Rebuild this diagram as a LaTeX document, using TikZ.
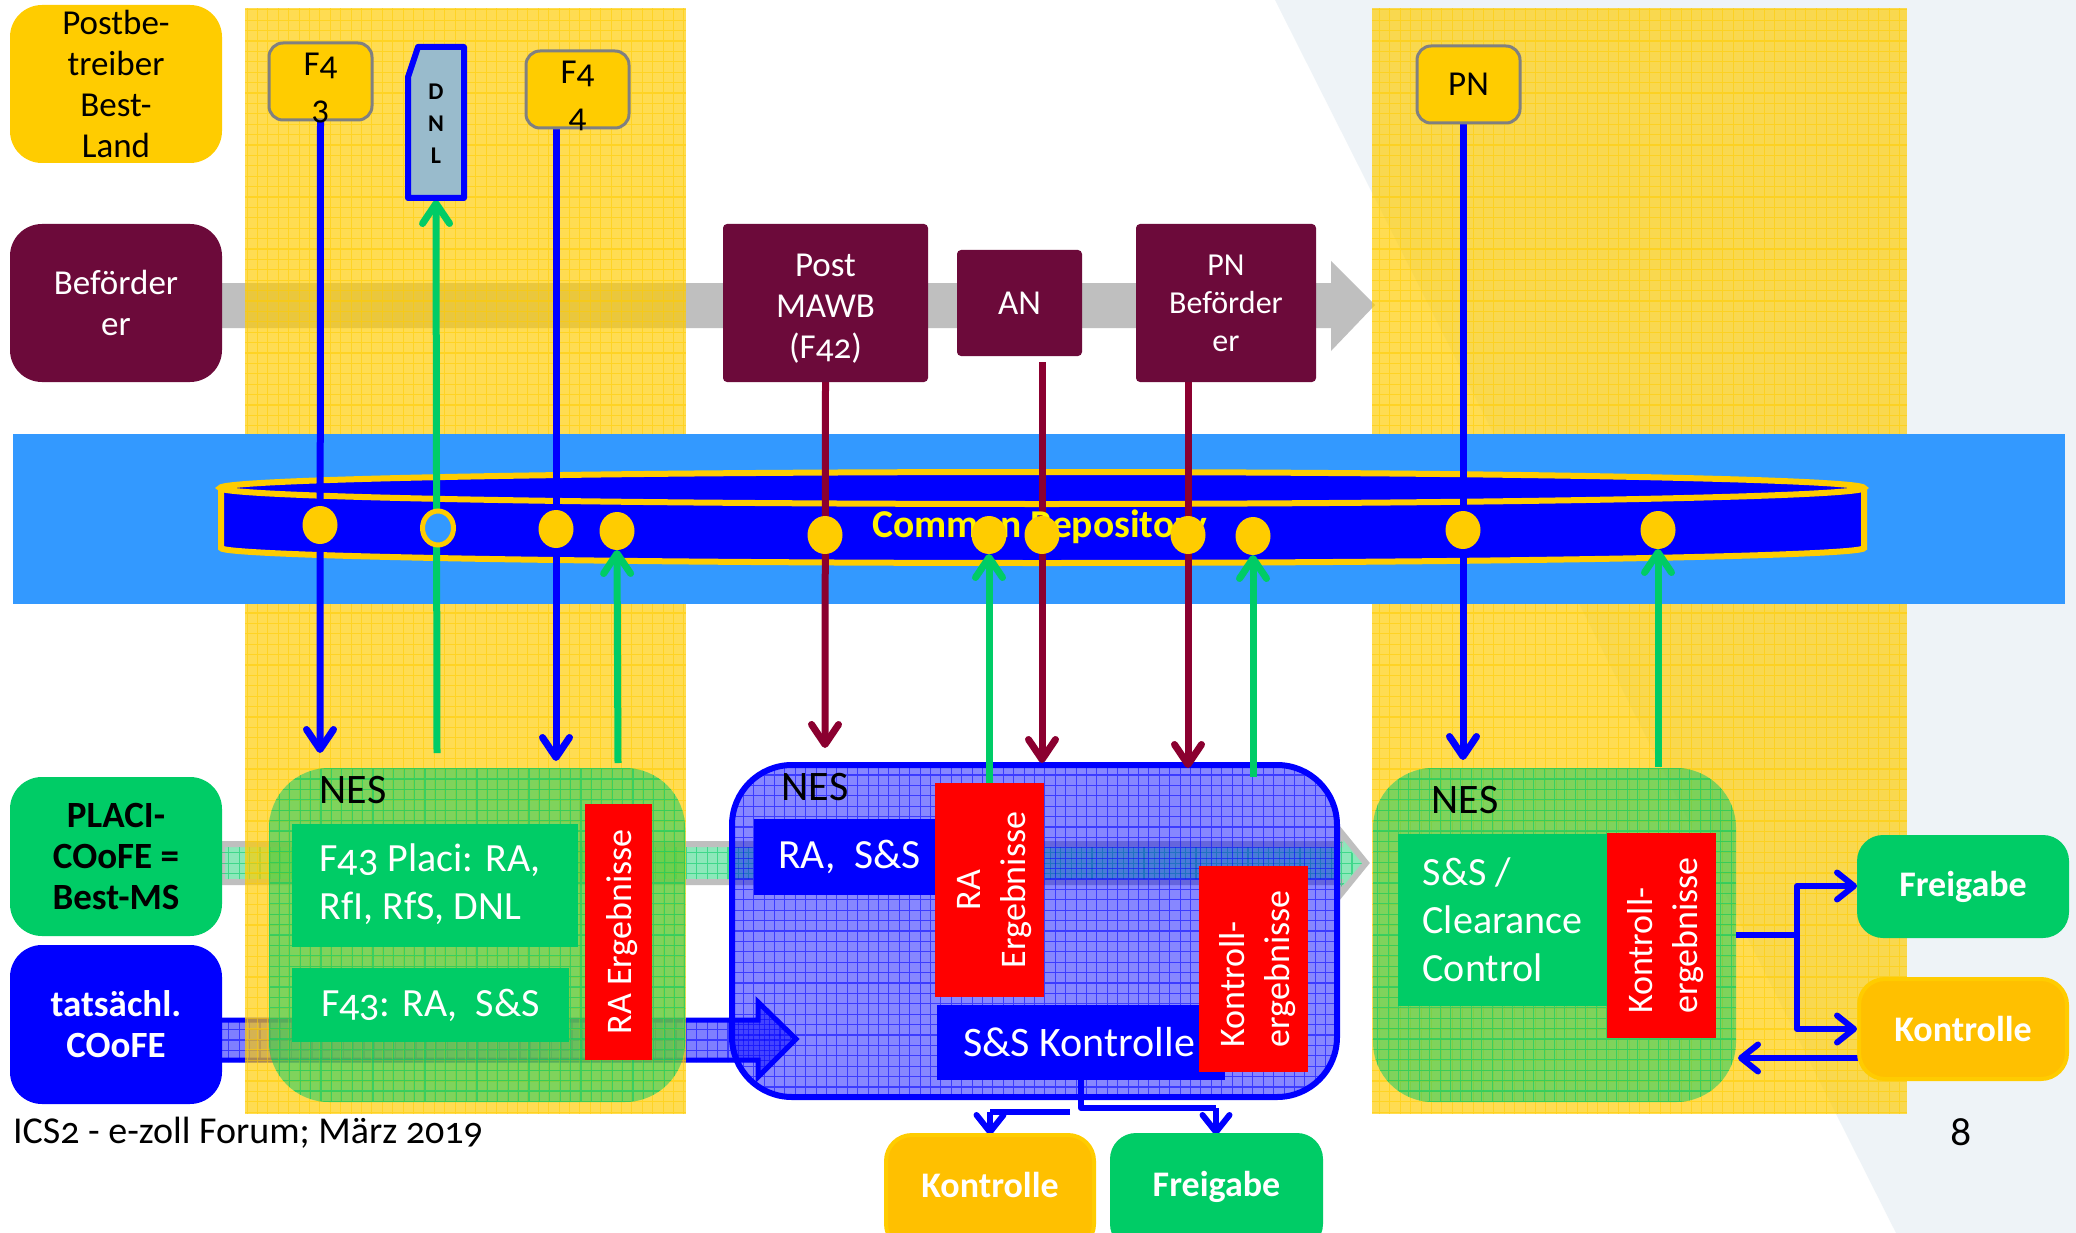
\documentclass[tikz,border=0pt]{standalone}
\usepackage{fontspec}
\setmainfont[Numbers=OldStyle]{Carlito}
\usetikzlibrary{arrows.meta,shapes.geometric}
\definecolor{lightbg}{HTML}{EEF3F7}
\definecolor{bandblue}{HTML}{3399FF}
\definecolor{gold}{HTML}{FFCC00}
\definecolor{amber}{HTML}{FFC000}
\definecolor{plum}{HTML}{6C0A3A}
\definecolor{wine}{HTML}{8B0030}
\definecolor{leaf}{HTML}{00CC66}
\definecolor{pure}{HTML}{0000FF}
\definecolor{dnlfill}{HTML}{99BBCC}
\definecolor{steel}{HTML}{BFBFBF}
\pgfdeclarelayer{bg}
\pgfdeclarelayer{conn}
\pgfsetlayers{bg,conn,main}
\newcommand{\fs}[2]{\fontsize{#1}{#2}\selectfont}
\newcommand{\bx}[7]{\node[#1,minimum width={(#5-#3)*1pt},minimum height={(#6-#4)*1pt}] (#2) at ({(#3+#5)/2},{(#4+#6)/2}) {#7};}
\newcommand{\rot}[1]{\hspace{8pt}\rotatebox{90}{\begin{tabular}{@{}l@{}}#1\end{tabular}}}
\newcommand{\rotc}[1]{\hspace{8pt}\rotatebox{90}{\begin{tabular}{@{}c@{}}#1\end{tabular}}}
\newcommand{\stack}[2]{\raisebox{#1}[0pt][0pt]{\begin{tabular}{@{}c@{}}#2\end{tabular}}}
\tikzset{
  x=1pt,y=-1pt,
  every node/.style={inner sep=0pt,outer sep=0pt,align=center},
  mesh/.style={path picture={\draw[#1,draw opacity=.55,line width=1.1pt,step=10.4pt]
     (path picture bounding box.south west) grid (path picture bounding box.north east);}},
  sidebox/.style={rounded corners=32pt,font=\fs{35}{41}},
  tagbox/.style={draw=gray,fill=gold,line width=3pt,rounded corners=14pt,font=\fs{35}{44},text=black},
  plumbox/.style={fill=plum,text=white,rounded corners=4pt,font=\fs{35}{41}},
  flat/.style={text=white,font=\fs{40}{48}},
  redbox/.style={fill=red,text=white,font=\fs{36}{45}},
  result/.style={rounded corners=26pt,text=white,font=\bfseries\fs{36}{41}},
  neslabel/.style={font=\fs{42}{48},text=black},
  dot/.style={ellipse,fill=gold,minimum width=35pt,minimum height=38pt},
  conn/.style={line width=7pt,-{Straight Barb[length=20pt,width=27pt,round]}},
  thin conn/.style={line width=6pt,pure,line join=round},
  thin tip/.style={-{Straight Barb[length=17pt,width=27pt,round]}},
}
\begin{document}
\begin{tikzpicture}
\useasboundingbox (0,0) rectangle (2076,1233);
\begin{pgfonlayer}{bg}
  \fill[white] (0,0) rectangle (2076,1233);
  \fill[lightbg] (1275,0) -- (2076,0) -- (2076,1233) -- (1896,1233) -- cycle;
  % flow bands
  \fill[steel] (222,283) -- (1331,283) -- (1331,261) -- (1375,305) -- (1331,351) -- (1331,328) -- (222,328) -- cycle;
  \draw[steel,line width=6pt,fill=leaf,fill opacity=.45,miter limit=10] (222,844) -- (1340,844) -- (1340,831) -- (1366,863) -- (1340,895) -- (1340,882) -- (222,882) -- cycle;
  \begin{scope}
    \clip (222,847) -- (1340,847) -- (1340,840) -- (1362,863) -- (1340,888) -- (1340,879) -- (222,879) -- cycle;
    \draw[leaf,draw opacity=.55,line width=1.1pt,step=10.4pt] (222,830) grid (1370,900);
  \end{scope}
  \fill[pure,opacity=.5] (222,1018) -- (756,1018) -- (756,997) -- (799,1039) -- (756,1082) -- (756,1062) -- (222,1062) -- cycle;
  \begin{scope}
    \clip (222,1018) -- (756,1018) -- (756,997) -- (799,1039) -- (756,1082) -- (756,1062) -- (222,1062) -- cycle;
    \draw[pure,draw opacity=.55,line width=1.1pt,step=10.4pt] (222,990) grid (800,1085);
  \end{scope}
  \draw[pure,line width=5pt,miter limit=10] (222,1020) -- (758,1020) -- (758,1002) -- (796,1039) -- (758,1077) -- (758,1060) -- (222,1060);
  % yellow columns
  \bx{fill=gold,fill opacity=.68,mesh=gold}{colA}{245}{8}{686}{1114}{}
  \bx{fill=gold,fill opacity=.68,mesh=gold}{colB}{1372}{8}{1907}{1114}{}
  % NES panels
  \bx{fill=leaf,fill opacity=.5,rounded corners=60pt,mesh=leaf}{nesA}{269}{768}{685}{1102}{}
  \bx{fill=leaf,fill opacity=.5,rounded corners=60pt,mesh=leaf}{nesC}{1373}{768}{1736}{1102}{}
  \bx{fill=pure,fill opacity=.47,draw=pure,line width=6pt,rounded corners=60pt,mesh=pure}{nesB}{732}{765}{1337}{1097}{}
  % repository
  \fill[bandblue] (13,434) rectangle (2065,604);
  \draw[gold,line width=6pt,fill=pure] (221,488) -- (221,548) .. controls (221,556) and (589,563) .. (1042,563) .. controls (1495,563) and (1864,556) .. (1864,548) -- (1864,488);
  \draw[gold,line width=6pt,fill=pure] (1042,488) ellipse [x radius=822, y radius=16];
\end{pgfonlayer}

% side boxes
\bx{sidebox,fill=gold,text=black}{postb}{10}{5}{222}{163}{Postbe-\\treiber\\Best-\\Land}
\bx{sidebox,fill=plum,text=white}{befo}{10}{224}{222}{382}{Beförder\\er}
\bx{sidebox,fill=leaf,text=black,font=\bfseries\fs{37}{41}}{placi}{10}{777}{222}{936}{PLACI-\\COoFE =\\Best-MS}
\bx{sidebox,fill=pure,text=white,font=\bfseries\fs{37}{41}}{tats}{10}{945}{222}{1104}{tatsächl.\\COoFE}

% top tags
\bx{tagbox}{ffa}{269}{43}{372}{120}{\stack{-13pt}{F4\\3}}
\bx{tagbox}{ffb}{526}{51}{629}{128}{\stack{-13pt}{F4\\4}}
\bx{tagbox}{pn}{1417}{46}{1520}{123}{PN}
\draw[pure,line width=6pt,fill=dnlfill,line join=round] (418,47) -- (464,47) -- (464,198) -- (408,198) -- (408,77) -- cycle;
\bx{font=\bfseries\fs{24}{32}}{dnl}{405}{45}{467}{200}{\stack{-9pt}{D\\N\\L}}

% carrier documents
\bx{plumbox}{mawb}{723}{224}{928}{382}{\stack{-13pt}{Post\\MAWB\\(F42)}}
\bx{plumbox}{an}{957}{250}{1082}{356}{AN}
\bx{plumbox,font=\fs{32}{38}}{pnb}{1136}{224}{1316}{382}{PN\\Beförder\\er}

% repository text and dots
\node[text=yellow,font=\bfseries\fs{39.5}{44}] (repo) at (1040,527) {Common Repository};
\node[dot] (d1) at (320,525) {};
\node[dot,fill=bandblue,draw=gold,line width=5pt,minimum width=31pt,minimum height=34pt] (d2) at (438,528) {};
\node[dot] (d3) at (556,529) {};
\node[dot] (d4) at (617,531) {};
\node[dot] (d5) at (825,535) {};
\node[dot] (d6) at (989,535) {};
\node[dot] (d7) at (1042,535) {};
\node[dot] (d8) at (1188,535) {};
\node[dot] (d9) at (1253,536) {};
\node[dot] (d10) at (1463,530) {};
\node[dot] (d11) at (1658,530) {};

% NES 1
\node[neslabel] (nesla) at (353,790) {NES};
\bx{fill=leaf,flat,align=left}{placibox}{292}{824}{578}{947}{\raisebox{-3pt}{\begin{tabular}{@{}l@{}}F43 Placi: RA,\\RfI, RfS, DNL\end{tabular}}\hspace{10pt}}
\bx{fill=leaf,flat}{fbox}{292}{968}{569}{1042}{F43: RA,~ S\&S}
\bx{redbox}{raA}{585}{804}{652}{1060}{\rotc{RA Ergebnisse}}

% NES 2
\node[neslabel] (neslb) at (815,787) {NES};
\bx{fill=pure,flat,font=\fs{41.5}{48}}{rass}{754}{819}{935}{895}{\hspace{10pt}RA,~ S\&S}
\bx{fill=pure,flat,font=\fs{42}{48}}{ssk}{937}{1005}{1225}{1080}{S\&S Kontrolle\hspace{4pt}}
\bx{redbox}{raB}{935}{783}{1044}{997}{\rotc{RA\\Ergebnisse}}
\bx{redbox}{krB}{1199}{866}{1308}{1072}{\rot{Kontroll-\\ergebnisse}}

% NES 3
\node[neslabel] (neslc) at (1465,800) {NES};
\bx{fill=leaf,flat,align=left}{ssc}{1398}{834}{1607}{1006}{S\&S /\\Clearance\\Control}
\bx{redbox}{krC}{1607}{833}{1716}{1038}{\rot{Kontroll-\\ergebnisse}}

% results
\bx{result,fill=amber,draw=gold,line width=4pt}{kontA}{886}{1135}{1094}{1250}{\raisebox{16pt}{Kontrolle}}
\bx{result,fill=leaf}{freiA}{1110}{1133}{1323}{1250}{\raisebox{16pt}{Freigabe}}
\bx{result,fill=leaf}{freiB}{1857}{835}{2069}{938}{Freigabe}
\bx{result,fill=amber,draw=gold,line width=4pt}{kontB}{1859}{979}{2067}{1079}{Kontrolle}

% footer
\node[anchor=west,font=\fs{38}{44},text=black] (foot) at (13,1133) {ICS2 - e-zoll Forum; März 2019};
\node[font=\fs{42}{48},text=black] (page) at (1961,1132) {8};

\begin{pgfonlayer}{conn}
  \coordinate (e1) at (320,753);
  \coordinate (e2) at (437,753);
  \coordinate (e3) at (556,761);
  \coordinate (e4) at (618,763);
  \coordinate (e5) at (825,748);
  \coordinate (e6) at (1042,763);
  \coordinate (e7) at (1188,768);
  \coordinate (e8) at (1253,777);
  \coordinate (e9) at (1463,760);
  \coordinate (e10) at (1658,767);
  \coordinate (s6) at (989,783);
  \coordinate (s7) at (1042,362);
  \coordinate (s8) at (1188,382);
  \draw[conn,pure] (ffa.south) -- (e1);
  \draw[conn,leaf] (e2) -- (dnl.south);
  \draw[conn,pure] (e3 |- ffb.south) -- (e3);
  \draw[conn,leaf] (e4) -- (d4.south);
  \draw[conn,wine] (mawb.south) -- (e5);
  \draw[conn,leaf] (s6) -- (d6.south);
  \draw[conn,wine] (s7) -- (e6);
  \draw[conn,wine] (s8) -- (e7);
  \draw[conn,leaf] (e8) -- (d9.south);
  \draw[conn,pure] (e9 |- pn.south) -- (e9);
  \draw[conn,leaf] (e10) -- (d11.south);
  % below S&S Kontrolle
  \coordinate (kA) at (990,1135);
  \coordinate (kB) at (1216,1135);
  \coordinate (kaS) at (1070,1112);
  \coordinate (kaT) at (990,1112);
  \coordinate (ssT) at (1081,1080);
  \coordinate (ssD) at (1081,1108);
  \coordinate (ssR) at (1216,1108);
  \draw[thin conn] (ssT) -- (ssD) -- (ssR);
  \draw[thin conn,thin tip] (ssR) -- (kB);
  \draw[thin conn] (kaS) -- (kaT);
  \draw[thin conn,thin tip] (kaT) -- (kA);
  % right side
  \coordinate (busT) at (1797,886);
  \coordinate (busB) at (1797,1029);
  \coordinate (busM) at (1797,935);
  \coordinate (freiIn) at (1857,886);
  \coordinate (kontIn) at (1857,1029);
  \draw[thin conn] (nesC.east |- busM) -- (busM);
  \draw[thin conn,thin tip] (busM) -- (busT) -- (freiIn);
  \draw[thin conn,thin tip] (busM) -- (busB) -- (kontIn);
  \coordinate (retA) at (1738,1058);
  \draw[thin conn,thin tip] (kontB.west |- retA) -- (retA);
\end{pgfonlayer}
\end{tikzpicture}
\end{document}
